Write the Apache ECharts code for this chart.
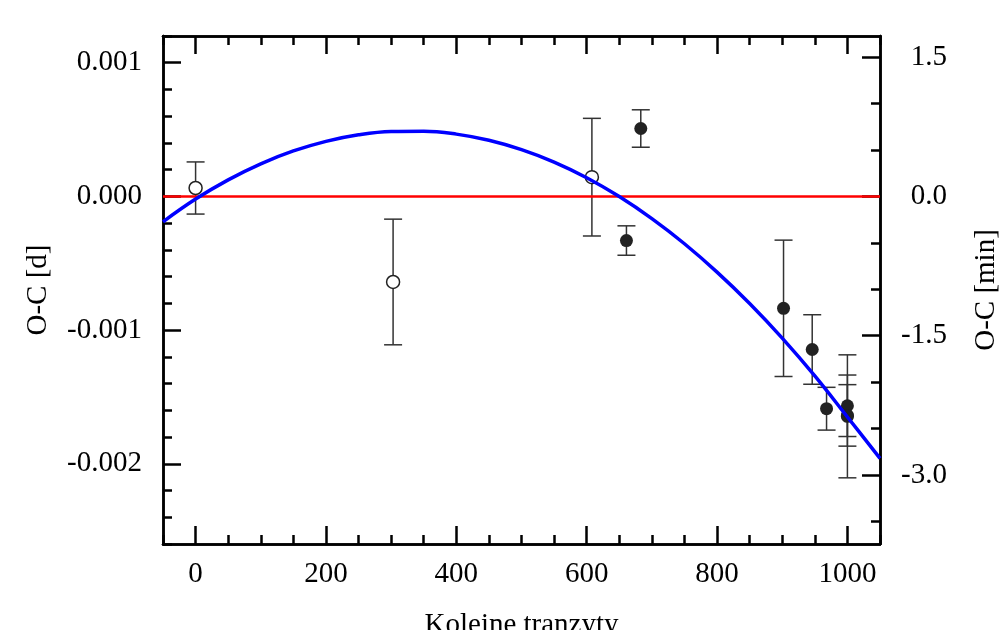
<!DOCTYPE html>
<html>
<head>
<meta charset="utf-8">
<script src="https://cdn.jsdelivr.net/npm/echarts@6/dist/echarts.min.js"></script>
<style>
  html, body { margin: 0; padding: 0; background: #fff; }
  #chart { width: 1006px; height: 630px; }
</style>
</head>
<body>
<div id="chart"></div>
<script>
// ticks
const xTicks = [0, 200, 400, 600, 800, 1000]
const xMinorTicks = [-50, 0, 50, 100, 150, 200, 250, 300, 350, 400, 450, 500, 550, 600, 650, 700, 750, 800, 850, 900, 950, 1000, 1050]
const dayTicks = [-0.002, -0.001, 0, 0.001]
const dayMinorTicks = [-0.0026, -0.0024, -0.0022, -0.002, -0.0018, -0.0016, -0.0014, -0.0012, -0.001, -0.0008, -0.0006, -0.0004, -0.0002, 0, 0.0002, 0.0004, 0.0006, 0.0008, 0.001, 0.0012]
const minTicks = [-3.0, -1.5, 0, 1.5]
const minMinorTicks = [-3.5, -3.0, -2.5, -2.0, -1.5, -1.0, -0.5, 0, 0.5, 1.0, 1.5]

// open circles (O-C in days, with errors)
const openX = [0, 303, 608]
const openY = [0.000063, -0.00064, 0.000144]
const openErr = [0.000195, 0.00047, 0.00044]

// filled circles
const filledX = [661, 683, 902, 946, 968, 1000, 1000, 1000]
const filledY = [-0.00033, 0.000508, -0.000837, -0.001145, -0.001588, -0.001566, -0.001638, -0.001645]
const filledErr = [0.00011, 0.00014, 0.00051, 0.00026, 0.00016, 0.00023, 0.00023, 0.00046]

// fitted curve
const fitX = [-50, 0, 50, 100, 150, 200, 250, 300, 350, 400, 450, 500, 550, 600, 650, 700, 750, 800, 850, 900, 950, 1000, 1050]
const fitY = [-0.00019, -0.00002, 0.000124, 0.000244, 0.00034, 0.000412, 0.000461, 0.000486, 0.000488, 0.000466, 0.00042, 0.00035, 0.000257, 0.00014, -0.000001, -0.000166, -0.000354, -0.000566, -0.000801, -0.00106, -0.001343, -0.00165, -0.00196]

const dayMin = -0.0026, dayMax = 0.0012
const xMin = -50, xMax = 1050

const font = 'Liberation Serif'
const fontSize = 29
const tickStyle = { color: '#000', width: 2.5 }

const chart = echarts.init(document.getElementById('chart'))

const errData = openX.map((x, i) => [x, openY[i], openErr[i]])
  .concat(filledX.map((x, i) => [x, filledY[i], filledErr[i]]))

function baseX(pos, ticks, len, withLabel) {
  return {
    type: 'value', position: pos, min: xMin, max: xMax,
    axisLine: { show: true, onZero: false, lineStyle: { color: '#000', width: 2.5 } },
    axisTick: { show: true, inside: true, length: len, lineStyle: tickStyle, customValues: ticks },
    axisLabel: withLabel
      ? { show: true, customValues: ticks, fontFamily: font, fontSize: fontSize, color: '#000', margin: 16, formatter: v => String(v) }
      : { show: false },
    splitLine: { show: false }
  }
}

function baseY(pos, min, max, ticks, len) {
  return {
    type: 'value', position: pos, min: min, max: max,
    axisLine: { show: true, onZero: false, lineStyle: { color: '#000', width: 2.5 } },
    axisTick: { show: true, inside: true, length: len, lineStyle: tickStyle, customValues: ticks },
    axisLabel: { show: false },
    splitLine: { show: false }
  }
}

const xMain = baseX('bottom', xTicks, 18, true)
xMain.name = 'Kolejne tranzyty'
xMain.nameLocation = 'middle'
xMain.nameGap = 67
xMain.nameTextStyle = { fontFamily: font, fontSize: fontSize, color: '#000' }

const yDay = baseY('left', dayMin, dayMax, dayTicks, 18)
yDay.axisLabel = {
  show: true, customValues: dayTicks, fontFamily: font, fontSize: fontSize, color: '#000', margin: 21,
  formatter: v => v.toFixed(3)
}
yDay.name = 'O-C [d]'
yDay.nameLocation = 'middle'
yDay.nameRotate = 90
yDay.nameGap = 110
yDay.nameTextStyle = { fontFamily: font, fontSize: fontSize, color: '#000' }

const yMin = baseY('right', dayMin * 1440, dayMax * 1440, minTicks, 18)
yMin.axisLabel = {
  show: true, customValues: minTicks, fontFamily: font, fontSize: fontSize, color: '#000',
  margin: 67, align: 'right', formatter: v => v.toFixed(1)
}
yMin.name = 'O-C [min]'
yMin.nameLocation = 'middle'
yMin.nameRotate = 90
yMin.nameGap = 92
yMin.nameTextStyle = { fontFamily: font, fontSize: fontSize, color: '#000' }

chart.setOption({
  animation: false,
  backgroundColor: '#fff',
  grid: { left: 163, right: 126, top: 36, bottom: 86, containLabel: false, outerBoundsMode: 'none' },
  xAxis: [
    xMain,
    baseX('bottom', xMinorTicks, 9, false),
    baseX('top', xTicks, 18, false),
    baseX('top', xMinorTicks, 9, false)
  ],
  yAxis: [
    yDay,
    baseY('left', dayMin, dayMax, dayMinorTicks, 9),
    yMin,
    baseY('right', dayMin * 1440, dayMax * 1440, minMinorTicks, 9)
  ],
  series: [
    {
      name: 'zero', type: 'line', data: [[xMin, 0], [xMax, 0]],
      symbol: 'none', lineStyle: { color: '#ff0000', width: 2.5 }
    },
    {
      name: 'fit', type: 'line', data: fitX.map((x, i) => [x, fitY[i]]),
      smooth: 0.4, symbol: 'none', lineStyle: { color: '#0000ff', width: 3.5 }
    },
    {
      name: 'errors', type: 'custom', data: errData,
      renderItem: (params, api) => {
        const x = api.value(0), y = api.value(1), e = api.value(2)
        const top = api.coord([x, y + e])
        const bot = api.coord([x, y - e])
        const cap = 9
        const style = { stroke: '#333', lineWidth: 1.5 }
        return {
          type: 'group',
          children: [
            { type: 'line', shape: { x1: top[0], y1: top[1], x2: bot[0], y2: bot[1] }, style },
            { type: 'line', shape: { x1: top[0] - cap, y1: top[1], x2: top[0] + cap, y2: top[1] }, style },
            { type: 'line', shape: { x1: bot[0] - cap, y1: bot[1], x2: bot[0] + cap, y2: bot[1] }, style }
          ]
        }
      }
    },
    {
      name: 'open', type: 'scatter', data: openX.map((x, i) => [x, openY[i]]),
      symbol: 'circle', symbolSize: 13,
      itemStyle: { color: '#fff', borderColor: '#222', borderWidth: 1.5, opacity: 1 }
    },
    {
      name: 'filled', type: 'scatter', data: filledX.map((x, i) => [x, filledY[i]]),
      symbol: 'circle', symbolSize: 13,
      itemStyle: { color: '#222', opacity: 1 }
    }
  ]
})
</script>
</body>
</html>
